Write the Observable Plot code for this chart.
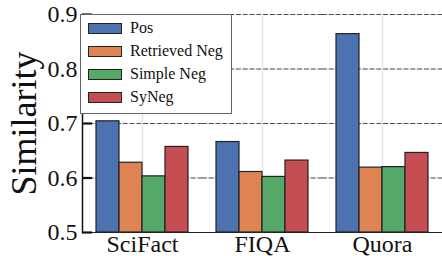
<!DOCTYPE html>
<html><head><meta charset="utf-8">
<script src="https://cdn.jsdelivr.net/npm/d3@7"></script>
<script src="https://cdn.jsdelivr.net/npm/@observablehq/plot@0.6"></script>
<style>
html,body{margin:0;padding:0;background:#fff;}
#wrap{position:relative;width:442px;height:256px;font-family:'Liberation Serif',serif;overflow:hidden;}
#wrap svg{position:absolute;left:0;top:0;}
#legend{position:absolute;left:80px;top:14px;width:152px;height:100px;background:#fff;border:1px solid #666;box-sizing:border-box;}
.item{position:absolute;left:7px;height:20px;display:flex;align-items:center;font-size:16px;color:#111;white-space:nowrap;font-family:'Liberation Serif',serif;}
.sw{width:32px;height:9px;border:1px solid #222;margin-right:8px;}
</style></head><body><div id="wrap"></div>
<script>
const categories = ["SciFact", "FIQA", "Quora"];
const series = ["Pos", "Retrieved Neg", "Simple Neg", "SyNeg"];
const colors = ["#4C72B0", "#DD8452", "#55A868", "#C44E52"];
const posValues = [0.704, 0.666, 0.864];
const retrievedNegValues = [0.628, 0.611, 0.619];
const simpleNegValues = [0.603, 0.602, 0.620];
const syNegValues = [0.657, 0.632, 0.646];
const yTicks = [0.5, 0.6, 0.7, 0.8, 0.9];
const yLabel = "Similarity";
const serif = "'Liberation Serif', serif";

const valueLists = [posValues, retrievedNegValues, simpleNegValues, syNegValues];
const data = [];
series.forEach((s, si) => categories.forEach((c, ci) => data.push({category: c, series: s, value: valueLists[si][ci]})));

const chart = Plot.plot({
  width: 442, height: 256,
  marginLeft: 81, marginRight: 0, marginTop: 14, marginBottom: 24,
  style: {fontFamily: serif, color: "#111", background: "transparent", overflow: "visible"},
  fx: {domain: categories, padding: 0, label: null},
  x: {domain: series, paddingInner: 0, paddingOuter: 0.507, axis: null},
  y: {domain: [yTicks[0], yTicks[yTicks.length - 1]]},
  color: {domain: series, range: colors},
  marks: [
    Plot.ruleX(categories, {fx: d => d, x: null, stroke: "#e6e6e6", strokeWidth: 1.5}),
    Plot.ruleY(yTicks, {stroke: "#e6e6e6", strokeWidth: 1.2}),
    Plot.ruleY(yTicks.slice(1), {stroke: "#333", strokeOpacity: 0.85, strokeWidth: 1.1, strokeDasharray: "4.8,2"}),
    Plot.barY(data, {fx: "category", x: "series", y1: yTicks[0], y2: "value", fill: "series", stroke: "#222", strokeWidth: 1.2}),
    Plot.ruleY([yTicks[0]], {stroke: "#222", strokeWidth: 1.2}),
    Plot.frame({anchor: "left", facetAnchor: "left", stroke: "#111", strokeWidth: 1.5}),
    Plot.axisY({ticks: yTicks, tickFormat: d3.format(".1f"), tickSize: -10, tickPadding: 15, strokeWidth: 2.2, fontSize: 24, label: null}),
    Plot.axisY({ticks: [], tickSize: 0, label: yLabel, labelAnchor: "center", labelArrow: "none", labelOffset: 72, fontSize: 36}),
    Plot.axisFx({anchor: "bottom", label: null, tickSize: 0, tickPadding: 2, fontSize: 24})
  ]
});
const wrap = document.getElementById("wrap");
wrap.appendChild(chart);
const legend = document.createElement("div");
legend.id = "legend";
series.forEach((s, i) => {
  const item = document.createElement("div");
  item.className = "item";
  item.style.top = (3 + i * 23) + "px";
  const sw = document.createElement("span");
  sw.className = "sw";
  sw.style.background = colors[i];
  const t = document.createElement("span");
  t.textContent = s;
  item.appendChild(sw);
  item.appendChild(t);
  legend.appendChild(item);
});
wrap.appendChild(legend);
</script></body></html>
